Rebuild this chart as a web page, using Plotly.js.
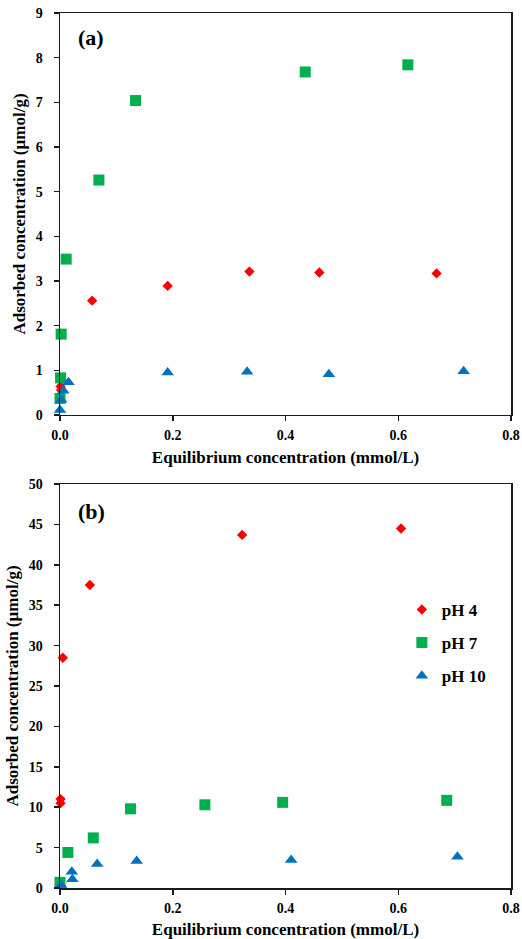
<!DOCTYPE html>
<html>
<head>
<meta charset="utf-8">
<script src="https://cdn.plot.ly/plotly-3.0.1.min.js"></script>
<style>html,body{margin:0;padding:0;background:#fff}#chart{width:522px;height:939px}</style>
</head>
<body>
<div id="chart"></div>
<script>
// Panel (a)
const a_pH4_x = [0.001, 0.002, 0.057, 0.191, 0.336, 0.460, 0.668];
const a_pH4_y = [0.64, 0.56, 2.56, 2.89, 3.21, 3.19, 3.17];
const a_pH7_x = [0.000, 0.001, 0.002, 0.011, 0.069, 0.134, 0.435, 0.617];
const a_pH7_y = [0.37, 0.83, 1.81, 3.49, 5.26, 7.04, 7.68, 7.84];
const a_pH10_x = [0.000, 0.002, 0.006, 0.015, 0.191, 0.332, 0.477, 0.716];
const a_pH10_y = [0.11, 0.34, 0.54, 0.73, 0.95, 0.97, 0.91, 0.98];
// Panel (b)
const b_pH4_x = [0.001, 0.001, 0.005, 0.053, 0.323, 0.605];
const b_pH4_y = [11.0, 10.5, 28.5, 37.5, 43.7, 44.5];
const b_pH7_x = [0.000, 0.014, 0.059, 0.125, 0.257, 0.395, 0.686];
const b_pH7_y = [0.7, 4.4, 6.2, 9.8, 10.3, 10.6, 10.85];
const b_pH10_x = [0.002, 0.022, 0.021, 0.066, 0.136, 0.410, 0.705];
const b_pH10_y = [0.37, 1.07, 2.0, 2.96, 3.34, 3.47, 3.88];
const seriesNames = ["pH 4", "pH 7", "pH 10"];

const FONT = "'Liberation Serif', 'Times New Roman', serif";
const RED = "#FF0000", GREEN = "#00B050", BLUE = "#0070C0";

function tr(x, y, name, color, symbol, size, ax, show, grp) {
  return {x: x, y: y, name: name, type: "scatter", mode: "markers",
    xaxis: ax[0], yaxis: ax[1], showlegend: show, legendgroup: grp,
    marker: {color: color, symbol: symbol, size: size, line: {width: 0}},
    cliponaxis: false, hoverinfo: "x+y"};
}
const data = [
  tr(a_pH4_x, a_pH4_y, seriesNames[0], RED, "diamond", 8, ["x","y"], false, "g1"),
  tr(a_pH7_x, a_pH7_y, seriesNames[1], GREEN, "square", 11, ["x","y"], false, "g2"),
  tr(a_pH10_x, a_pH10_y, seriesNames[2], BLUE, "triangle-up", 11, ["x","y"], false, "g3"),
  tr(b_pH4_x, b_pH4_y, seriesNames[0], RED, "diamond", 8, ["x2","y2"], true, "g1"),
  tr(b_pH7_x, b_pH7_y, seriesNames[1], GREEN, "square", 11, ["x2","y2"], true, "g2"),
  tr(b_pH10_x, b_pH10_y, seriesNames[2], BLUE, "triangle-up", 11, ["x2","y2"], true, "g3")
];

const tickFont = {family: FONT, size: 14, color: "#000", weight: "bold"};
const titleFont = {family: FONT, size: 17, color: "#000", weight: "bold"};
function xax(anchor) {
  return {anchor: anchor, domain: [0, 1], range: [0, 0.8], dtick: 0.2, tick0: 0,
    tickformat: ".1f", showgrid: false, zeroline: false, showline: true, mirror: true,
    linecolor: "#1a1a1a", linewidth: 1.5, ticks: "outside", ticklen: 5, tickwidth: 1.5,
    tickcolor: "#1a1a1a", tickfont: tickFont, ticklabelstandoff: 2,
    title: {text: "Equilibrium concentration (mmol/L)", font: titleFont, standoff: 9}};
}
function yax(anchor, dom, max, dt) {
  return {anchor: anchor, domain: dom, range: [0, max], dtick: dt, tick0: 0,
    showgrid: false, zeroline: false, showline: true, mirror: true,
    linecolor: "#1a1a1a", linewidth: 1.5, ticks: "outside", ticklen: 5, tickwidth: 1.5,
    tickcolor: "#1a1a1a", tickfont: tickFont, ticklabelstandoff: 8,
    title: {text: "Adsorbed concentration (µmol/g)", font: titleFont, standoff: 5}};
}

const layout = {
  width: 522, height: 939,
  margin: {l: 60, r: 11, t: 13, b: 51},
  paper_bgcolor: "#fff", plot_bgcolor: "#fff",
  showlegend: true,
  xaxis: xax("y"), yaxis: yax("x", [0.5406, 1], 9, 1),
  xaxis2: xax("y2"), yaxis2: yax("x2", [0, 0.4617], 50, 5),
  legend: {x: 0.758, y: 0.3384, xanchor: "left", yanchor: "top",
    font: {family: FONT, size: 17, color: "#000", weight: "bold"},
    bgcolor: "rgba(0,0,0,0)", borderwidth: 0, tracegroupgap: 8, itemwidth: 30},
  annotations: [
    {text: "(a)", xref: "x domain", yref: "y domain", x: 0.069, y: 0.938,
     xanchor: "center", yanchor: "middle",
     showarrow: false, font: {family: FONT, size: 22, color: "#000", weight: "bold"}},
    {text: "(b)", xref: "x2 domain", yref: "y2 domain", x: 0.069, y: 0.931,
     xanchor: "center", yanchor: "middle",
     showarrow: false, font: {family: FONT, size: 22, color: "#000", weight: "bold"}}
  ]
};
Plotly.newPlot("chart", data, layout, {displayModeBar: false, staticPlot: true});
</script>
</body>
</html>
